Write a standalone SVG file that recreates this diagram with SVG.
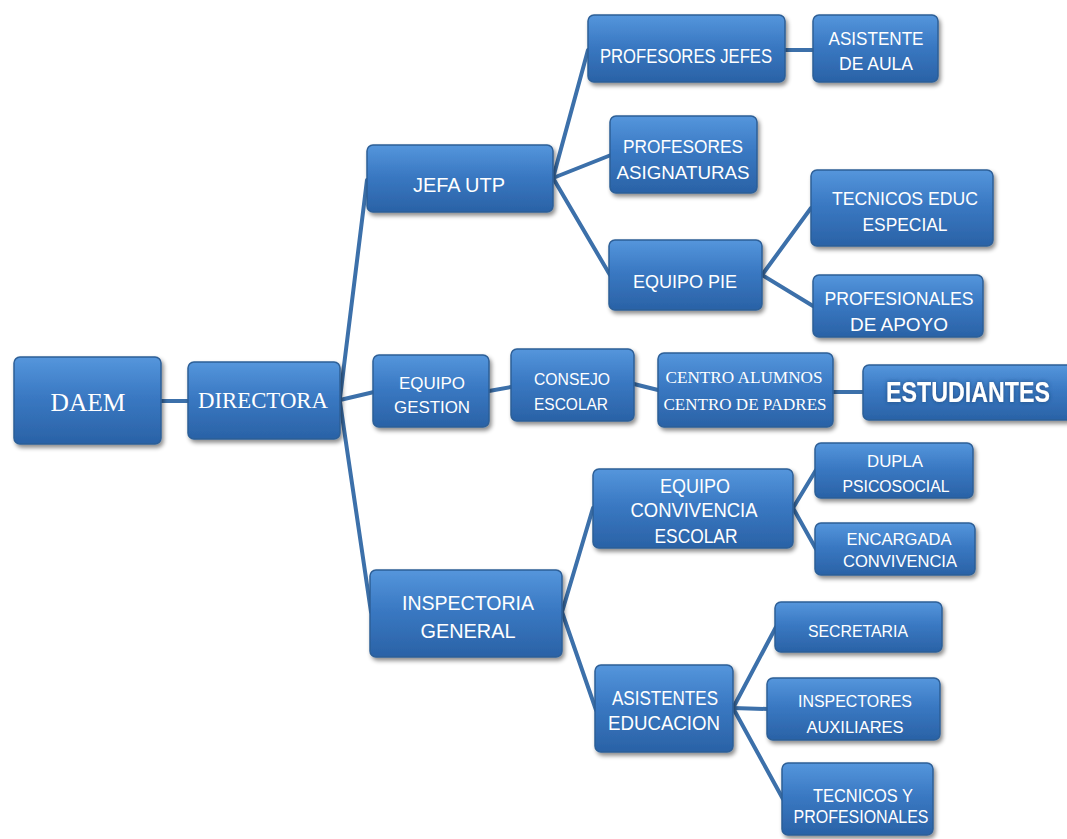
<svg xmlns="http://www.w3.org/2000/svg" width="1067" height="839" viewBox="0 0 1067 839">
<defs>
<linearGradient id="g" x1="0" y1="0" x2="0" y2="1">
<stop offset="0" stop-color="#5596dc"/>
<stop offset="0.45" stop-color="#3a79c3"/>
<stop offset="1" stop-color="#2a62a6"/>
</linearGradient>
<filter id="sh" x="-10%" y="-10%" width="125%" height="135%">
<feDropShadow dx="2" dy="3" stdDeviation="2" flood-color="#000" flood-opacity="0.45"/>
</filter>
<filter id="glow" x="-5%" y="-30%" width="110%" height="160%">
<feGaussianBlur in="SourceAlpha" stdDeviation="2" result="b"/>
<feFlood flood-color="#1b3f6e" flood-opacity="0.8"/>
<feComposite in2="b" operator="in"/>
<feMerge><feMergeNode/><feMergeNode in="SourceGraphic"/></feMerge>
</filter>
</defs>
<style>
.box{fill:url(#g);stroke:#2d5f97;stroke-width:1.5;filter:url(#sh)}
.t{fill:#ffffff;font-family:"Liberation Sans",Arial,sans-serif;text-anchor:middle}
.s{fill:#ffffff;font-family:"Liberation Serif","Times New Roman",serif;text-anchor:middle}
.c line{stroke:#3c70aa;stroke-width:4;stroke-linecap:round}
</style>
<rect width="1067" height="839" fill="#ffffff"/>
<g class="c" id="connectors">
<line x1="160" y1="401" x2="189" y2="401"/>
<line x1="340" y1="398" x2="367" y2="180"/>
<line x1="340" y1="400" x2="374" y2="392"/>
<line x1="340" y1="402" x2="371" y2="612"/>
<line x1="553" y1="178" x2="588" y2="50"/>
<line x1="553" y1="178" x2="611" y2="155"/>
<line x1="553" y1="178" x2="610" y2="275"/>
<line x1="785" y1="50" x2="813" y2="50"/>
<line x1="762" y1="275" x2="811" y2="208"/>
<line x1="762" y1="275" x2="813" y2="306"/>
<line x1="489" y1="391" x2="511" y2="387"/>
<line x1="634" y1="384" x2="658" y2="390"/>
<line x1="833" y1="392" x2="864" y2="392"/>
<line x1="562" y1="612" x2="593" y2="508"/>
<line x1="562" y1="612" x2="596" y2="710"/>
<line x1="793" y1="508" x2="816" y2="470"/>
<line x1="793" y1="508" x2="816" y2="549"/>
<line x1="733" y1="708" x2="776" y2="627"/>
<line x1="733" y1="708" x2="768" y2="709"/>
<line x1="733" y1="708" x2="783" y2="799"/>
</g>
<g id="daem"><rect class="box" x="14" y="357" width="147" height="87" rx="6"/><text class="s" x="88" y="411" font-size="26" textLength="75" lengthAdjust="spacingAndGlyphs">DAEM</text></g>
<g id="directora"><rect class="box" x="188" y="362" width="152" height="77" rx="6"/><text class="s" x="263" y="408" font-size="22.5" textLength="130" lengthAdjust="spacingAndGlyphs">DIRECTORA</text></g>
<g id="jefa-utp"><rect class="box" x="367" y="145" width="186" height="67" rx="6"/><text class="t" x="459" y="192" font-size="21" textLength="92" lengthAdjust="spacingAndGlyphs">JEFA UTP</text></g>
<g id="profesores-jefes"><rect class="box" x="588" y="15" width="197" height="67" rx="6"/><text class="t" x="686" y="63" font-size="20" textLength="172" lengthAdjust="spacingAndGlyphs">PROFESORES JEFES</text></g>
<g id="asistente-aula"><rect class="box" x="813" y="15" width="125" height="67" rx="6"/><text class="t" x="876" y="45" font-size="19" textLength="95" lengthAdjust="spacingAndGlyphs">ASISTENTE</text><text class="t" x="876" y="70" font-size="19" textLength="74" lengthAdjust="spacingAndGlyphs">DE AULA</text></g>
<g id="profesores-asignaturas"><rect class="box" x="610" y="116" width="147" height="77" rx="6"/><text class="t" x="683" y="153" font-size="18" textLength="120" lengthAdjust="spacingAndGlyphs">PROFESORES</text><text class="t" x="683" y="179" font-size="18" textLength="133" lengthAdjust="spacingAndGlyphs">ASIGNATURAS</text></g>
<g id="equipo-pie"><rect class="box" x="609" y="240" width="153" height="70" rx="6"/><text class="t" x="685" y="288" font-size="19" textLength="104" lengthAdjust="spacingAndGlyphs">EQUIPO PIE</text></g>
<g id="tecnicos-educ"><rect class="box" x="811" y="170" width="182" height="76" rx="6"/><text class="t" x="905" y="205" font-size="19" textLength="146" lengthAdjust="spacingAndGlyphs">TECNICOS EDUC</text><text class="t" x="905" y="231" font-size="19" textLength="85" lengthAdjust="spacingAndGlyphs">ESPECIAL</text></g>
<g id="profesionales-apoyo"><rect class="box" x="813" y="275" width="170" height="62" rx="6"/><text class="t" x="899" y="305" font-size="19" textLength="149" lengthAdjust="spacingAndGlyphs">PROFESIONALES</text><text class="t" x="899" y="331" font-size="19" textLength="98" lengthAdjust="spacingAndGlyphs">DE APOYO</text></g>
<g id="equipo-gestion"><rect class="box" x="373" y="355" width="116" height="72" rx="6"/><text class="t" x="432" y="389" font-size="17" textLength="66" lengthAdjust="spacingAndGlyphs">EQUIPO</text><text class="t" x="432" y="413" font-size="17" textLength="76" lengthAdjust="spacingAndGlyphs">GESTION</text></g>
<g id="consejo-escolar"><rect class="box" x="511" y="349" width="123" height="72" rx="6"/><text class="t" x="572" y="385" font-size="17" textLength="76" lengthAdjust="spacingAndGlyphs">CONSEJO</text><text class="t" x="571" y="410" font-size="17" textLength="74" lengthAdjust="spacingAndGlyphs">ESCOLAR</text></g>
<g id="centro-alumnos-padres"><rect class="box" x="658" y="353" width="175" height="74" rx="6"/><text class="s" x="744" y="383" font-size="17" textLength="157" lengthAdjust="spacingAndGlyphs">CENTRO ALUMNOS</text><text class="s" x="745" y="410" font-size="17" textLength="163" lengthAdjust="spacingAndGlyphs">CENTRO DE PADRES</text></g>
<g id="estudiantes"><rect class="box" x="863" y="365" width="210" height="55" rx="6"/><text class="t" x="968" y="402" font-size="29" font-weight="bold" textLength="164" lengthAdjust="spacingAndGlyphs" filter="url(#glow)">ESTUDIANTES</text></g>
<g id="equipo-convivencia"><rect class="box" x="593" y="469" width="200" height="79" rx="6"/><text class="t" x="695" y="493" font-size="20" textLength="70" lengthAdjust="spacingAndGlyphs">EQUIPO</text><text class="t" x="694" y="517" font-size="20" textLength="127" lengthAdjust="spacingAndGlyphs">CONVIVENCIA</text><text class="t" x="696" y="543" font-size="20" textLength="83" lengthAdjust="spacingAndGlyphs">ESCOLAR</text></g>
<g id="dupla-psicosocial"><rect class="box" x="815" y="443" width="158" height="55" rx="6"/><text class="t" x="895" y="467" font-size="17" textLength="56" lengthAdjust="spacingAndGlyphs">DUPLA</text><text class="t" x="896" y="492" font-size="17" textLength="107" lengthAdjust="spacingAndGlyphs">PSICOSOCIAL</text></g>
<g id="encargada-convivencia"><rect class="box" x="815" y="523" width="160" height="52" rx="6"/><text class="t" x="899" y="545" font-size="17" textLength="105" lengthAdjust="spacingAndGlyphs">ENCARGADA</text><text class="t" x="900" y="567" font-size="17" textLength="114" lengthAdjust="spacingAndGlyphs">CONVIVENCIA</text></g>
<g id="inspectoria-general"><rect class="box" x="370" y="570" width="192" height="87" rx="6"/><text class="t" x="468" y="610" font-size="20" textLength="132" lengthAdjust="spacingAndGlyphs">INSPECTORIA</text><text class="t" x="468" y="638" font-size="20" textLength="95" lengthAdjust="spacingAndGlyphs">GENERAL</text></g>
<g id="asistentes-educacion"><rect class="box" x="595" y="665" width="138" height="87" rx="6"/><text class="t" x="665" y="705" font-size="20" textLength="106" lengthAdjust="spacingAndGlyphs">ASISTENTES</text><text class="t" x="664" y="730" font-size="20" textLength="112" lengthAdjust="spacingAndGlyphs">EDUCACION</text></g>
<g id="secretaria"><rect class="box" x="775" y="602" width="167" height="50" rx="6"/><text class="t" x="858" y="637" font-size="17" textLength="100" lengthAdjust="spacingAndGlyphs">SECRETARIA</text></g>
<g id="inspectores-auxiliares"><rect class="box" x="767" y="678" width="173" height="62" rx="6"/><text class="t" x="855" y="707" font-size="17" textLength="114" lengthAdjust="spacingAndGlyphs">INSPECTORES</text><text class="t" x="855" y="733" font-size="17" textLength="97" lengthAdjust="spacingAndGlyphs">AUXILIARES</text></g>
<g id="tecnicos-profesionales"><rect class="box" x="782" y="763" width="151" height="72" rx="6"/><text class="t" x="863" y="802" font-size="18" textLength="100" lengthAdjust="spacingAndGlyphs">TECNICOS Y</text><text class="t" x="861" y="823" font-size="18" textLength="135" lengthAdjust="spacingAndGlyphs">PROFESIONALES</text></g>
</svg>
